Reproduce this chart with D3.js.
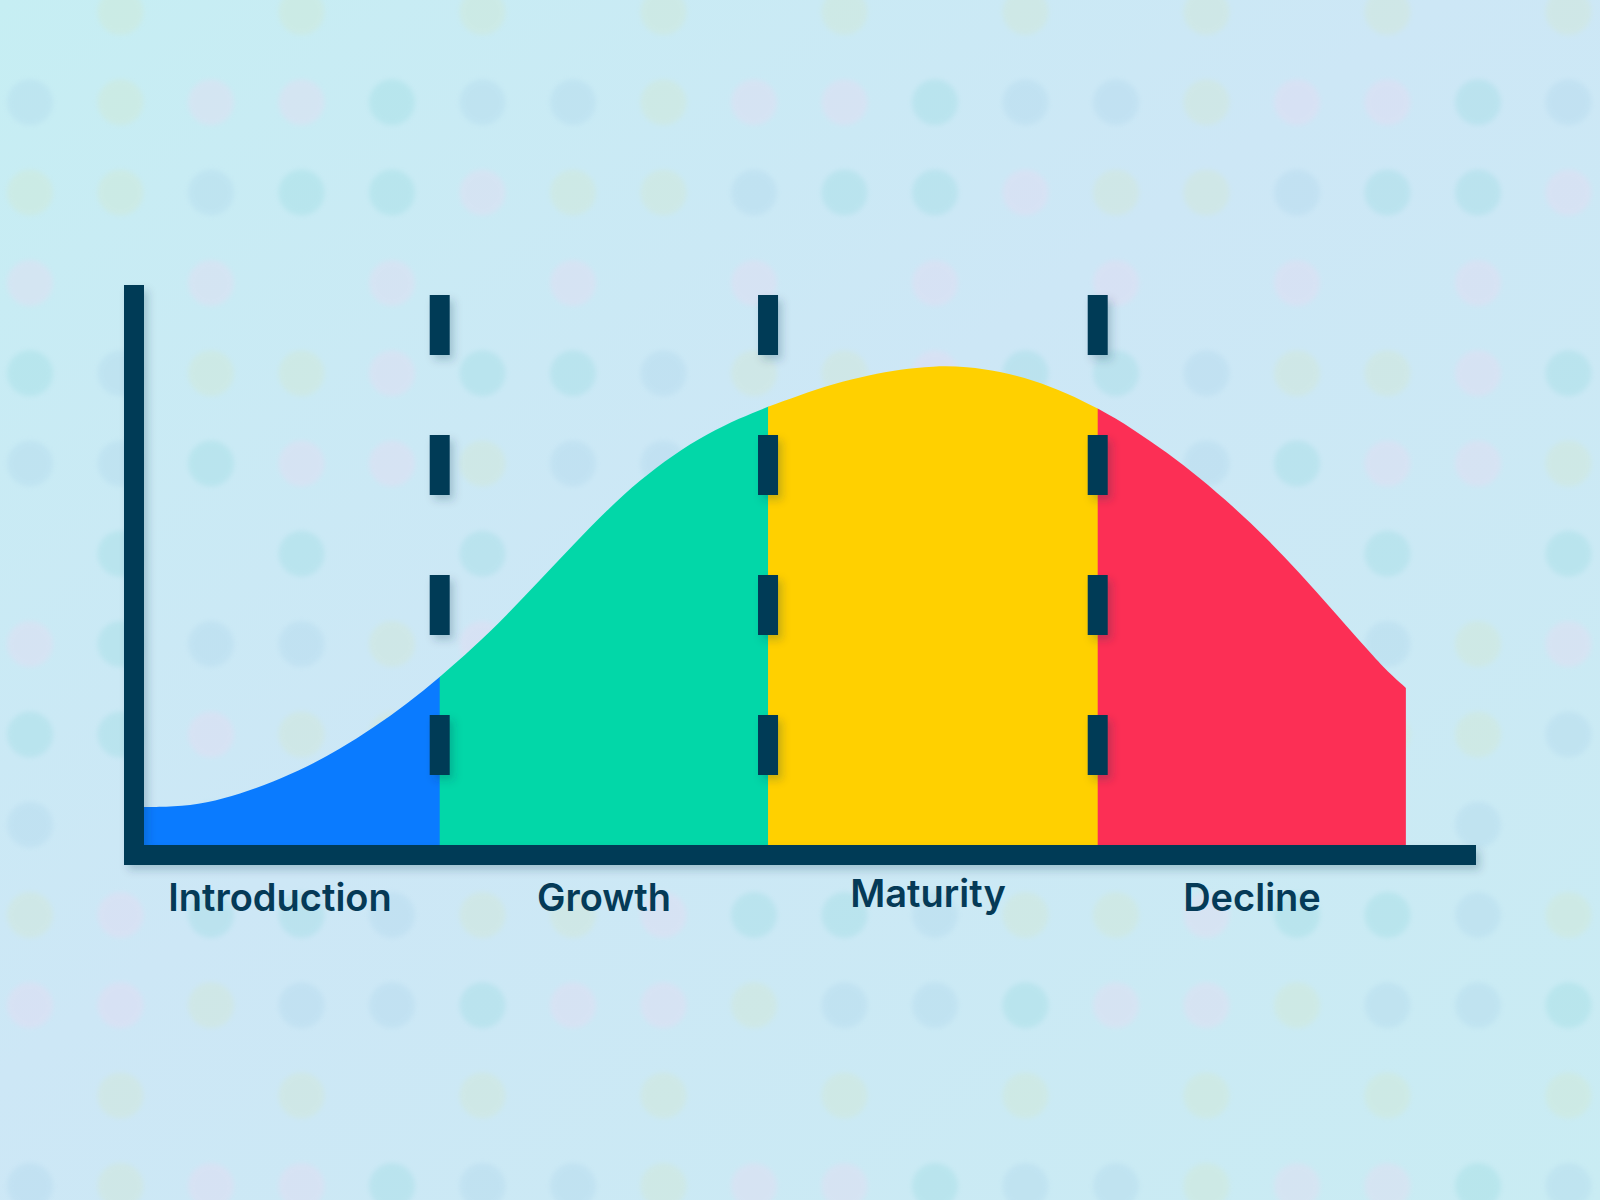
<!DOCTYPE html>
<html>
<head>
<meta charset="utf-8">
<script src="https://cdn.jsdelivr.net/npm/d3@7"></script>
<style>
  html, body { margin: 0; padding: 0; background: #cbe9f4; }
  svg { display: block; }
</style>
</head>
<body>
<svg id="chart" width="1600" height="1200"></svg>
<script>
// ---------- DATA ----------
const stages = ["Introduction", "Growth", "Maturity", "Decline"];
const stageBounds = [0, 22.2, 46.85, 71.6, 94.74];          // time units where stages start / end
const stageColors = ["#0a7bff", "#02d7a8", "#ffd000", "#fc2f55"];
const timeValues  = [0, 2.18, 4.73, 7.21, 9.68, 12.24, 14.71, 17.19, 19.74, 22.22, 24.70, 27.25, 29.73, 32.21, 34.76, 37.24,
                     39.71, 42.27, 44.74, 46.77, 49.25, 51.73, 54.50, 56.76, 59.23, 61.79, 64.26, 66.74, 69.29, 71.62, 74.25,
                     76.80, 79.28, 81.76, 84.31, 86.79, 89.26, 91.82, 93.17, 94.74];
const salesValues = [6.79, 6.79, 7.50, 9.11, 11.25, 13.93, 17.14, 20.89, 25.18, 30.00, 35.18, 41.07, 47.32, 53.57, 59.82, 65.18,
                     69.64, 73.39, 76.25, 78.21, 80.36, 82.32, 83.93, 84.91, 85.54, 85.45, 84.55, 83.02, 80.71, 78.00, 74.30,
                     70.11, 65.52, 60.45, 54.73, 48.48, 41.88, 34.95, 31.41, 28.04];
const dotColors = ["#93d9df", "#f0d6f0", "#d5e7c6", "#aad4ea"];

// ---------- SETUP ----------
const W = 1600, H = 1200;
const svg = d3.select("#chart");
const navy = "#053a57";

const x = d3.scaleLinear().domain([0, 100]).range([144, 1476]);
const y = d3.scaleLinear().domain([0, 100]).range([845, 285]);
const labelX = d3.scalePoint().domain(stages).range([280, 1252]);

const defs = svg.append("defs");
const bg = defs.append("linearGradient").attr("id", "bg").attr("x1", 0).attr("y1", 0).attr("x2", 1).attr("y2", 1);
bg.append("stop").attr("offset", "0%").attr("stop-color", "#c6eef3");
bg.append("stop").attr("offset", "45%").attr("stop-color", "#cde7f6");
bg.append("stop").attr("offset", "100%").attr("stop-color", "#c9ecf3");

const sh = defs.append("filter").attr("id", "shadow").attr("x", "-50%").attr("y", "-50%").attr("width", "200%").attr("height", "200%");
sh.append("feDropShadow").attr("dx", 4).attr("dy", 5).attr("stdDeviation", 4)
  .attr("flood-color", "#0b3550").attr("flood-opacity", 0.22);

const blur = defs.append("filter").attr("id", "blur");
blur.append("feGaussianBlur").attr("stdDeviation", 2.5);

// background
svg.append("rect").attr("width", W).attr("height", H).attr("fill", "url(#bg)");

// decorative dot grid
const dots = [];
for (let j = 0; j < 14; j++) {
  for (let i = 0; i < 18; i++) {
    if ((i * 3 + j * 7) % 6 === 0) continue;
    const k = (i * 2 + j * 3 + (i * j) % 3) % 4;
    dots.push({ cx: 30 + i * 90.5, cy: 12 + j * 90.3, c: dotColors[k] });
  }
}
svg.append("g").attr("filter", "url(#blur)").attr("opacity", 0.3)
  .selectAll("circle").data(dots).join("circle")
  .attr("cx", d => d.cx).attr("cy", d => d.cy).attr("r", 23).attr("fill", d => d.c);

// ---------- AREA ----------
const data = timeValues.map((t, i) => ({ t, v: salesValues[i] }));
const area = d3.area()
  .x(d => x(d.t)).y0(y(0)).y1(d => y(d.v))
  .curve(d3.curveBasis);

stages.forEach((s, i) => {
  defs.append("clipPath").attr("id", "clip" + i)
    .append("rect")
    .attr("x", x(stageBounds[i])).attr("y", 0)
    .attr("width", x(stageBounds[i + 1]) - x(stageBounds[i]) + (i < stages.length - 1 ? 0.6 : 0))
    .attr("height", H);
  svg.append("path").datum(data)
    .attr("d", area)
    .attr("fill", stageColors[i])
    .attr("clip-path", `url(#clip${i})`);
});

// ---------- DASHED DIVIDERS ----------
svg.append("g").attr("filter", "url(#shadow)")
  .selectAll("line").data(stageBounds.slice(1, 4)).join("line")
  .attr("x1", d => x(d)).attr("x2", d => x(d))
  .attr("y1", y(98.2)).attr("y2", y(12.5))
  .attr("stroke", navy).attr("stroke-width", 20)
  .attr("stroke-dasharray", "60 80");

// ---------- AXES ----------
const axes = svg.append("g").attr("filter", "url(#shadow)");
axes.append("rect")
  .attr("x", x(0) - 20).attr("y", y(100))
  .attr("width", 20).attr("height", y(0) + 20 - y(100))
  .attr("fill", navy);
axes.append("rect")
  .attr("x", x(0) - 20).attr("y", y(0))
  .attr("width", x(100) - x(0) + 20).attr("height", 20)
  .attr("fill", navy);

// ---------- LABELS ----------
const labelBaseline = { "Introduction": 911, "Growth": 911, "Maturity": 907, "Decline": 911 };
svg.append("g").selectAll("text").data(stages).join("text")
  .attr("x", d => labelX(d))
  .attr("y", d => labelBaseline[d])
  .attr("text-anchor", "middle")
  .attr("font-family", "Inter, 'Open Sans', sans-serif")
  .attr("font-weight", 600)
  .attr("font-size", 38)
  .attr("fill", navy)
  .text(d => d);
</script>
</body>
</html>
